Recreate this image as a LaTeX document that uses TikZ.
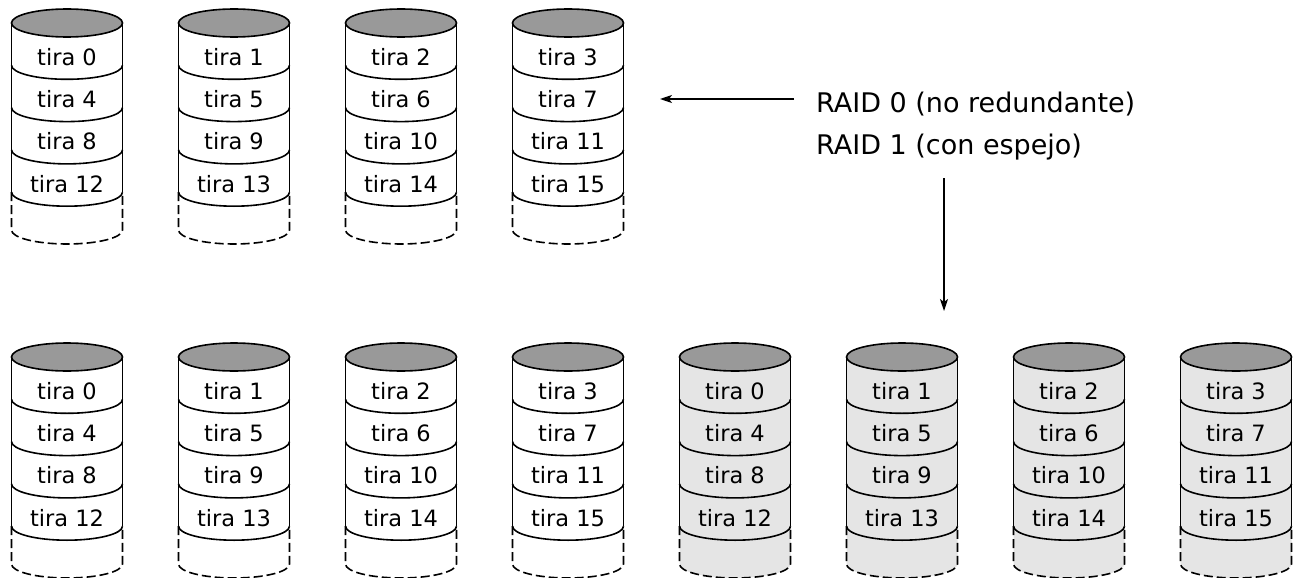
\documentclass[tikz,border=0pt]{standalone}
\usepackage{fontspec}
\setmainfont{DejaVu Sans}
\usetikzlibrary{arrows.meta}

\definecolor{topgray}{gray}{0.6}
\definecolor{mirrorgray}{gray}{0.9}

\newcommand\rx{55.5pt}
\newcommand\ry{14pt}
\newcommand\seg{42.3}

% One disk: #1 name, #2 centre x, #3 centre y of the top, #4 body fill, #5 stripe numbers
\newcommand\drawdisk[5]{%
  \begin{scope}[shift={(#2,#3)}]
    \fill[#4] (-55.5,0) -- (-55.5,-207) arc[start angle=180,end angle=360,x radius=\rx,y radius=\ry] -- (55.5,0) -- cycle;
    \draw[disk line] (-55.5,0) -- (-55.5,-169.2) (55.5,0) -- (55.5,-169.2);
    \draw[disk line,dashed disk] (-55.5,-169.2) -- (-55.5,-207) arc[start angle=180,end angle=360,x radius=\rx,y radius=\ry] -- (55.5,-169.2);
    \foreach \k in {1,...,4}
      \draw[disk line] (-55.5,{-\k*\seg}) arc[start angle=180,end angle=360,x radius=\rx,y radius=\ry];
    \draw[disk line,fill=topgray] (0,0) ellipse[x radius=\rx,y radius=\ry];
    \foreach \t [count=\i from 0] in {#5}
      \node[stripe] (#1-\i) at (0,{-34-\i*\seg}) {tira \t};
  \end{scope}}

\tikzset{
  disk line/.style={line width=1.6pt},
  dashed disk/.style={dash pattern=on 9pt off 4pt},
  stripe/.style={inner sep=0pt,font=\fontsize{22.5}{27}\selectfont},
  raid/.style={inner sep=0pt,anchor=base west,font=\fontsize{27}{32}\selectfont},
  pointer/.style={line width=1.1pt,-{Stealth[length=12pt,width=8pt,inset=3pt]}}
}

\begin{document}
\begin{tikzpicture}[x=1pt,y=1pt]
  \useasboundingbox (0,0) rectangle (1298,-578);

  % RAID 0: four striped disks
  \drawdisk{a}{67}{-23}{white}{0,4,8,12}
  \drawdisk{b}{234}{-23}{white}{1,5,9,13}
  \drawdisk{c}{401}{-23}{white}{2,6,10,14}
  \drawdisk{d}{568}{-23}{white}{3,7,11,15}

  % RAID 1: the same four disks plus their mirrors
  \drawdisk{e}{67}{-357}{white}{0,4,8,12}
  \drawdisk{f}{234}{-357}{white}{1,5,9,13}
  \drawdisk{g}{401}{-357}{white}{2,6,10,14}
  \drawdisk{h}{568}{-357}{white}{3,7,11,15}
  \drawdisk{i}{735}{-357}{mirrorgray}{0,4,8,12}
  \drawdisk{j}{902}{-357}{mirrorgray}{1,5,9,13}
  \drawdisk{k}{1069}{-357}{mirrorgray}{2,6,10,14}
  \drawdisk{l}{1236}{-357}{mirrorgray}{3,7,11,15}

  % captions and pointers
  \node[raid] (raid0) at (816,-112) {RAID 0 (no redundante)};
  \node[raid] (raid1) at (816,-154) {RAID 1 (con espejo)};

  \coordinate (r0from) at (794,-99);
  \coordinate (r0to) at (660,-99);
  \coordinate (r1from) at (944,-178);
  \coordinate (r1to) at (944,-311);
  \draw[pointer] (r0from) -- (r0to);
  \draw[pointer] (r1from) -- (r1to);
\end{tikzpicture}
\end{document}
